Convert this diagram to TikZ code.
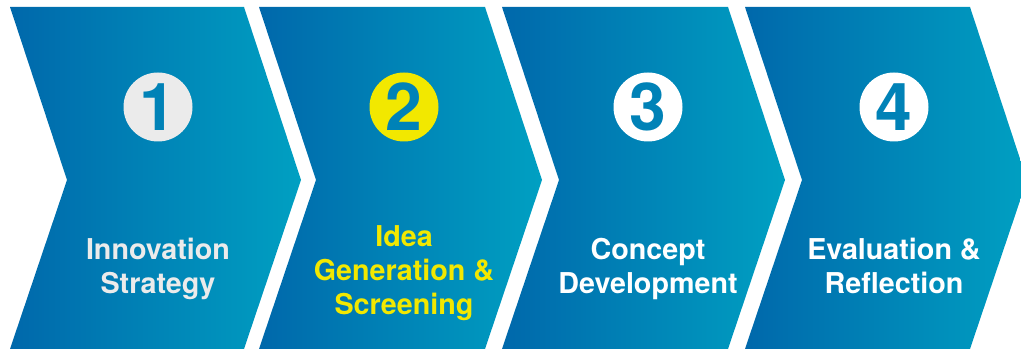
\documentclass[tikz,border=0pt]{standalone}
\usepackage{fontspec}
\setmainfont{TeX Gyre Heros}
\definecolor{stepdark}{RGB}{0,104,171}
\definecolor{steplight}{RGB}{0,160,194}
\definecolor{stepmid}{RGB}{0,130,183}
\definecolor{stepgray}{RGB}{235,235,235}
\definecolor{stepyellow}{RGB}{242,232,0}
\tikzset{
  chevron/.style={left color=stepdark, right color=steplight},
  numdisc/.style={circle, minimum size=69pt, inner sep=0pt, text=stepmid,
    font=\bfseries\fontsize{66}{66}\selectfont},
  steplabel/.style={align=center, font=\bfseries\fontsize{28.7}{34}\selectfont}
}
\begin{document}
\begin{tikzpicture}[x=1pt,y=1pt]
  \def\picw{1021} \def\pich{350}
  \def\ytop{343} \def\ybot{1} \def\ymid{170} \def\dx{57}
  \useasboundingbox (0,0) rectangle (\picw,\pich);
  \clip (0,0) rectangle (\picw,\pich);
  % four chevrons, each with a numbered disc and a label
  \foreach \n/\l/\r/\c/\col/\ly/\txt in {
      1/10/244/158/stepgray/81/{Innovation\\Strategy},
      2/259/485/404/stepyellow/77/{Idea\\Generation \&\\Screening},
      3/502/728/648/white/81/{Concept\\Development},
      4/745/970/894/white/84/{Evaluation \&\\Reflection}}{
    \shade[chevron] (\l,\ytop) -- (\r,\ytop) -- (\r+\dx,\ymid) -- (\r,\ybot)
      -- (\l,\ybot) -- (\l+\dx,\ymid) -- cycle;
    \node[numdisc, fill=\col] (num\n) at (\c,243) {\n};
    \node[steplabel, text=\col] (lab\n) at (\c,\ly) {\txt};
  }
\end{tikzpicture}
\end{document}
